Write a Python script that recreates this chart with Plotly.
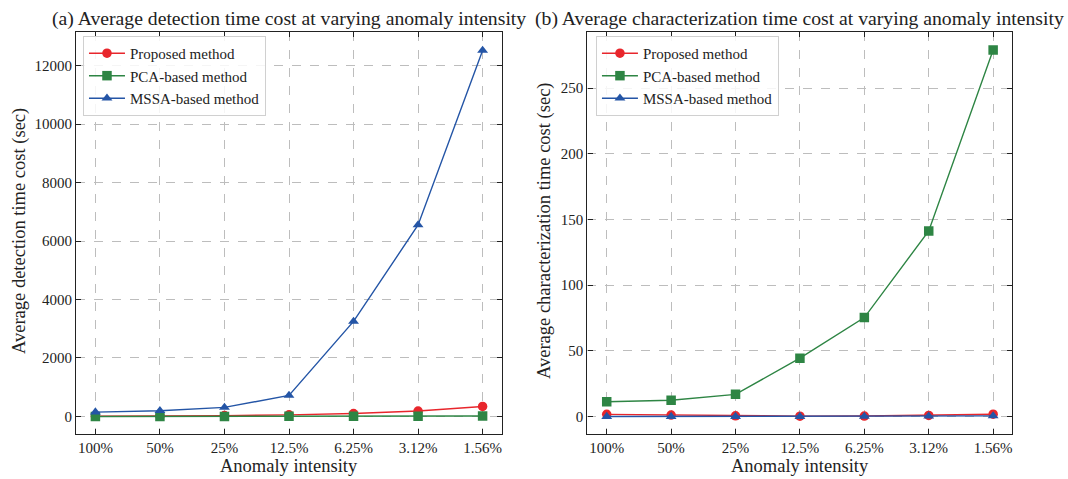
import plotly.graph_objects as go

intensity = ["100%", "50%", "25%", "12.5%", "6.25%", "3.12%", "1.56%"]

# (a) average detection time cost (sec)
det_proposed = [10, 15, 30, 55, 100, 185, 342]
det_pca = [1.5, 1.8, 2.5, 4, 6, 9, 14]
det_mssa = [150, 198, 310, 718, 3250, 6550, 12520]

# (b) average characterization time cost (sec)
char_proposed = [1.8, 1.2, 0.7, 0.4, 0.5, 1.0, 1.9]
char_pca = [11.4, 12.5, 17.0, 44.5, 75.4, 141.3, 278.9]
char_mssa = [0.1, 0.1, 0.1, 0.1, 0.2, 0.4, 0.6]

names = ["Proposed method", "PCA-based method", "MSSA-based method"]
colors = ["#e8262c", "#2e8544", "#2455a6"]
symbols = ["circle", "square", "triangle-up"]

FONT = "Times New Roman, Liberation Serif, serif"

fig = go.Figure()

for series, xa, ya, leg in [
    ([det_proposed, det_pca, det_mssa], "x", "y", "legend"),
    ([char_proposed, char_pca, char_mssa], "x2", "y2", "legend2"),
]:
    for name, vals, col, sym in zip(names, series, colors, symbols):
        fig.add_trace(go.Scatter(
            x=intensity, y=vals, name=name, mode="lines+markers",
            line=dict(color=col, width=1.4),
            marker=dict(symbol=sym, size=9.5, color=col),
            xaxis=xa, yaxis=ya, legend=leg,
        ))

axis_common = dict(
    showline=True, linecolor="#222222", linewidth=1.3, mirror="allticks",
    ticks="inside", ticklen=5, tickcolor="#222222", tickwidth=1,
    showgrid=True, gridcolor="#bdbdbd", griddash="dash", gridwidth=1,
    zeroline=False,
    tickfont=dict(family=FONT, size=15, color="#222222"),
)

legend_common = dict(
    bgcolor="rgba(255,255,255,0.85)", bordercolor="#d0d0d0", borderwidth=1,
    font=dict(family=FONT, size=15, color="#222222"),
    xanchor="left", yanchor="top", tracegroupgap=0, itemwidth=36,
)

fig.update_layout(
    width=1068, height=479,
    margin=dict(l=0, r=0, t=0, b=0),
    paper_bgcolor="white", plot_bgcolor="white",
    font=dict(family=FONT, size=15, color="#222222"),
    xaxis=dict(domain=[0.0712, 0.470], range=[-0.3, 6.3], anchor="y", **axis_common),
    yaxis=dict(domain=[0.0933, 0.9332], range=[-610, 13150], anchor="x",
               tickvals=[0, 2000, 4000, 6000, 8000, 10000, 12000], tickformat="d",
               **axis_common),
    xaxis2=dict(domain=[0.550, 0.948], range=[-0.3, 6.3], anchor="y2", **axis_common),
    yaxis2=dict(domain=[0.0933, 0.9332], range=[-13.4, 292.6], anchor="x2",
                tickvals=[0, 50, 100, 150, 200, 250], tickformat="d", **axis_common),
    legend=dict(x=0.0777, y=0.925, **legend_common),
    legend2=dict(x=0.558, y=0.925, **legend_common),
    showlegend=True,
)

annotations = [
    dict(text="(a) Average detection time cost at varying anomaly intensity",
         x=289 / 1068, y=1 - 18 / 479, font=dict(size=19.7)),
    dict(text="(b) Average characterization time cost at varying anomaly intensity",
         x=799 / 1068, y=1 - 18 / 479, font=dict(size=19.7)),
    dict(text="Anomaly intensity", x=289 / 1068, y=1 - 466 / 479, font=dict(size=18.5)),
    dict(text="Anomaly intensity", x=800 / 1068, y=1 - 466 / 479, font=dict(size=18.5)),
    dict(text="Average detection time cost (sec)", x=20 / 1068, y=1 - 231 / 479,
         textangle=-90, font=dict(size=18.5)),
    dict(text="Average characterization time cost (sec)", x=545 / 1068, y=1 - 231 / 479,
         textangle=-90, font=dict(size=18.5)),
]
for a in annotations:
    a.update(xref="paper", yref="paper", showarrow=False, xanchor="center", yanchor="middle")
    a["font"] = dict(family=FONT, color="#222222", **a["font"])
    fig.add_annotation(**a)

fig.write_html("out.html")
